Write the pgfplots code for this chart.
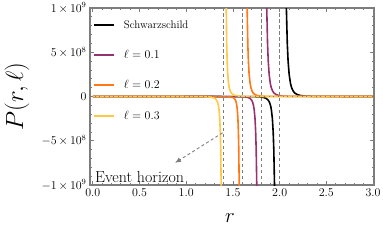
\documentclass[border=0pt]{standalone}
\usepackage{pgfplots}
\pgfplotsset{compat=1.18}
\usetikzlibrary{arrows.meta}
\definecolor{cpurple}{RGB}{150,50,110}
\definecolor{corange}{RGB}{255,120,20}
\definecolor{cyellow}{RGB}{255,200,70}
\definecolor{framegray}{RGB}{125,125,125}
\begin{document}
\begin{tikzpicture}
\path[use as bounding box] (-90bp,-56bp) rectangle (293bp,185bp);
\begin{axis}[
  at={(0,0)}, anchor=south west,
  scale only axis, width=284bp, height=177bp,
  xmin=-0.03, xmax=3.01, ymin=-1e9, ymax=1e9,
  axis line style={framegray, line width=1.1bp},
  tick style={framegray, line width=0.8bp},
  tick align=inside,
  major tick length=4bp, minor tick length=2.2bp,
  xtick={0,0.5,1,1.5,2,2.5,3},
  minor x tick num=4,
  ytick={-1e9,-5e8,0,5e8,1e9},
  yticklabels={$-1\,{\times}\,10^{9}$,$-5\,{\times}\,10^{8}$,$0$,$5\,{\times}\,10^{8}$,$1\,{\times}\,10^{9}$},
  minor y tick num=4,
  scaled y ticks=false,
  xticklabel style={/pgf/number format/.cd, fixed, fixed zerofill, precision=1},
  ticklabel style={font=\fontsize{12}{14}\selectfont},
  xlabel={$r$}, ylabel={$P(r,\ell)$},
  xlabel style={at={(axis description cs:0.493,-0.186)}, anchor=center, font=\fontsize{22}{26}\selectfont},
  ylabel style={at={(axis description cs:-0.257,0.5)}, anchor=center, font=\fontsize{23}{27}\selectfont},
  legend style={at={(axis description cs:0.0,0.953)}, anchor=north west, draw=none, fill=none,
    font=\fontsize{12}{14}\selectfont, row sep=16.5bp, inner xsep=3bp, inner ysep=2bp,
    /tikz/every odd column/.append style={column sep=7bp}},
  legend cell align=left,
  legend image code/.code={\draw[#1, line width=1.8bp] (0bp,0bp) -- (20bp,0bp);},
  every axis plot/.append style={line width=1.6bp, line join=round},
]
% Schwarzschild
\addplot[black] coordinates {(2.0688,1.2e9) (2.0720,1e9) (2.0818,6e8) (2.0905,4e8) (2.1018,2.5e8) (2.1157,1.5e8) (2.1280,1e8) (2.1455,6e7) (2.1610,4e7) (2.1915,2e7) (2.2277,1e7) (2.2708,5e6) (2.3405,2e6) (2.4049,1e6) (3.0,27000)};
\addlegendentry{\fontsize{11}{13}\selectfont Schwarzschild}
\addplot[black, forget plot] coordinates {(0,-1000) (1.0,-9000) (1.6907,-1e6) (1.7399,-2e6) (1.7932,-5e6) (1.8261,-1e7) (1.8538,-2e7) (1.8770,-4e7) (1.8889,-6e7) (1.9022,-1e8) (1.9116,-1.5e8) (1.9222,-2.5e8) (1.9308,-4e8) (1.9375,-6e8) (1.9450,-1e9) (1.9475,-1.2e9)};
% l = 0.1
\addplot[cpurple] coordinates {(1.8592,1.2e9) (1.8620,1e9) (1.8704,6e8) (1.8780,4e8) (1.8877,2.5e8) (1.8996,1.5e8) (1.9103,1e8) (1.9253,6e7) (1.9386,4e7) (1.9649,2e7) (1.9961,1e7) (2.0332,5e6) (2.0932,2e6) (2.1487,1e6) (3.0,15000)};
\addlegendentry{$\ell=0.1$}
\addplot[cpurple, forget plot] coordinates {(0,-500) (1.0,-10000) (1.5470,-1e6) (1.5872,-2e6) (1.6308,-5e6) (1.6577,-1e7) (1.6803,-2e7) (1.6994,-4e7) (1.7091,-6e7) (1.7200,-1e8) (1.7277,-1.5e8) (1.7364,-2.5e8) (1.7434,-4e8) (1.7489,-6e8) (1.7550,-1e9) (1.7570,-1.2e9)};
% l = 0.2
\addplot[corange] coordinates {(1.6497,1.2e9) (1.6520,1e9) (1.6591,6e8) (1.6654,4e8) (1.6735,2.5e8) (1.6836,1.5e8) (1.6925,1e8) (1.7051,6e7) (1.7163,4e7) (1.7383,2e7) (1.7644,1e7) (1.7956,5e6) (1.8459,2e6) (1.8924,1e6) (3.0,7000)};
\addlegendentry{$\ell=0.2$}
\addplot[corange, forget plot] coordinates {(0,-300) (1.0,-3300) (1.4144,-1e6) (1.4440,-2e6) (1.4759,-5e6) (1.4956,-1e7) (1.5122,-2e7) (1.5262,-4e7) (1.5333,-6e7) (1.5413,-1e8) (1.5470,-1.5e8) (1.5533,-2.5e8) (1.5585,-4e8) (1.5625,-6e8) (1.5670,-1e9) (1.5685,-1.2e9)};
% l = 0.3
\addplot[cyellow] coordinates {(1.4263,1.2e9) (1.4280,1e9) (1.4332,6e8) (1.4380,4e8) (1.4444,2.5e8) (1.4527,1.5e8) (1.4603,1e8) (1.4715,6e7) (1.4819,4e7) (1.5032,2e7) (1.5300,1e7) (1.5637,5e6) (1.6222,2e6) (1.6800,1e6) (1.7530,5e5) (3.0,5400)};
\addlegendentry{$\ell=0.3$}
\addplot[cyellow, forget plot] coordinates {(0,-6000) (0.8,-81000) (1.1400,-1e6) (1.1936,-2e6) (1.2480,-5e6) (1.2793,-1e7) (1.3042,-2e7) (1.3240,-4e7) (1.3336,-6e7) (1.3440,-1e8) (1.3511,-1.5e8) (1.3587,-2.5e8) (1.3647,-4e8) (1.3692,-6e8) (1.3740,-1e9) (1.3755,-1.2e9)};
% horizons
\addplot[framegray, line width=0.9bp, dash pattern=on 3.5bp off 2.5bp, forget plot] coordinates {(1.4,-1e9) (1.4,1e9)};
\addplot[framegray, line width=0.9bp, dash pattern=on 3.5bp off 2.5bp, forget plot] coordinates {(1.6,-1e9) (1.6,1e9)};
\addplot[framegray, line width=0.9bp, dash pattern=on 3.5bp off 2.5bp, forget plot] coordinates {(1.8,-1e9) (1.8,1e9)};
\addplot[framegray, line width=0.9bp, dash pattern=on 3.5bp off 2.5bp, forget plot] coordinates {(2.0,-1e9) (2.0,1e9)};
% zero line
\addplot[framegray, line width=1bp, dash pattern=on 1bp off 3.7bp, forget plot] coordinates {(-0.03,0) (3.01,0)};
\draw[framegray, line width=0.9bp, dash pattern=on 3bp off 2.5bp, -{Latex[length=6bp,width=5bp]}] (axis cs:1.39,-4.1e8) -- (axis cs:0.88,-7.5e8);
\node[font=\fontsize{16}{18}\selectfont] at (axis cs:0.50,-9.05e8) {Event horizon};
\end{axis}
\end{tikzpicture}
\end{document}
